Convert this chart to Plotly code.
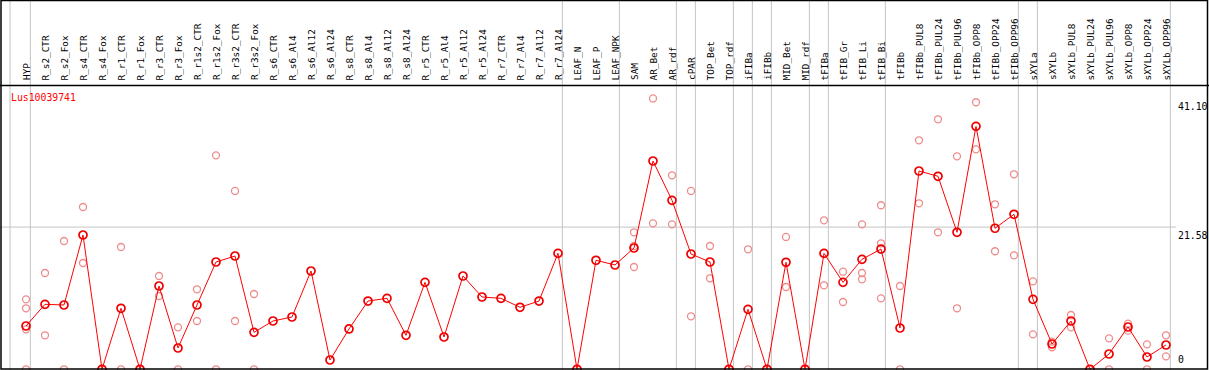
import plotly.graph_objects as go

gene_id = "Lus10039741"

categories = [
    "HYP", "R_s2_CTR", "R_s2_Fox", "R_s4_CTR", "R_s4_Fox", "R_r1_CTR", "R_r1_Fox",
    "R_r3_CTR", "R_r3_Fox", "R_r1s2_CTR", "R_r1s2_Fox", "R_r3s2_CTR", "R_r3s2_Fox",
    "R_s6_CTR", "R_s6_Al4", "R_s6_Al12", "R_s6_Al24", "R_s8_CTR", "R_s8_Al4",
    "R_s8_Al12", "R_s8_Al24", "R_r5_CTR", "R_r5_Al4", "R_r5_Al12", "R_r5_Al24",
    "R_r7_CTR", "R_r7_Al4", "R_r7_Al12", "R_r7_Al24", "LEAF_N", "LEAF_P", "LEAF_NPK",
    "SAM", "AR_Bet", "AR_rdf", "cPAR", "TOP_Bet", "TOP_rdf", "iFIBa", "iFIBb",
    "MID_Bet", "MID_rdf", "tFIBa", "tFIB_Gr", "tFIB_Li", "tFIB_Bi", "tFIBb",
    "tFIBb_PUL8", "tFIBb_PUL24", "tFIBb_PUL96", "tFIBb_OPP8", "tFIBb_OPP24",
    "tFIBb_OPP96", "sXYLa", "sXYLb", "sXYLb_PUL8", "sXYLb_PUL24", "sXYLb_PUL96",
    "sXYLb_OPP8", "sXYLb_OPP24", "sXYLb_OPP96",
]

means = [
    6.57, 9.86, 9.76, 20.38, 0, 9.26, 0, 12.64, 3.23, 9.76, 16.28, 17.19, 5.61,
    7.33, 7.94, 14.92, 1.41, 6.12, 10.36, 10.77, 5.16, 13.2, 4.9, 14.16, 10.97,
    10.77, 9.41, 10.36, 17.6, 0, 16.54, 15.83,
    18.41, 31.61, 25.64, 17.5, 16.28, 0, 9.1, 0, 16.24, 0, 17.6, 13.2, 16.69,
    18.25, 6.27, 30.09, 29.29, 20.79, 36.87, 21.4, 23.52, 10.62, 3.84, 7.33, 0,
    2.32, 6.42, 1.87, 3.69,
]

replicates = [
    [10.62, 9.26, 6.07, 0], [14.61, 5.16], [19.47, 0], [24.63, 16.13], [], [18.56, 0], [],
    [14.16, 11.12], [6.37, 0], [12.14, 7.33], [32.47, 0], [27.06, 7.33], [11.43, 0],
    [], [], [], [], [], [], [], [], [], [], [], [], [], [], [], [], [], [], [],
    [20.79, 18.71, 15.52], [41.10, 22.15], [29.44, 22.0], [27.06, 8.04], [18.71, 13.81],
    [], [18.21, 0], [], [20.08, 12.49], [], [22.61, 12.75], [14.81, 10.21],
    [22.0, 14.61, 13.66], [24.89, 19.12, 10.77], [12.64, 0],
    [34.75, 25.19], [37.94, 20.79], [32.32, 9.26], [40.52, 33.38], [25.04, 17.91],
    [29.59, 17.3], [13.35, 5.31], [4.19, 3.34], [8.24, 6.37], [], [4.7, 0],
    [6.92, 5.86], [3.79, 0], [5.16, 1.97],
]

group_ends = ["HYP", "R_r7_Al24", "LEAF_NPK", "AR_rdf", "cPAR", "TOP_rdf", "iFIBa",
              "iFIBb", "MID_rdf", "tFIBa", "tFIB_Bi", "tFIBb_OPP96", "sXYLa", "sXYLb_OPP96"]

tick_values = [41.10, 21.58, 0]
tick_labels = ["41.10", "21.58", "0"]
grid_values = [21.58]

# ---- layout geometry (pixels) ----
W, H = 1209, 370
step_px = 19.0
first_px = 26.0
zero_px = 369.3
unit_px = 6.59

idx = list(range(len(categories)))
x_lo = -first_px / step_px
x_hi = x_lo + W / step_px
y_lo = -(H - zero_px) / unit_px
y_hi = y_lo + H / unit_px

rep_x, rep_y = [], []
for i, reps in enumerate(replicates):
    for v in reps:
        rep_x.append(i)
        rep_y.append(v)

mono = "DejaVu Sans Mono"

fig = go.Figure()
fig.add_trace(go.Scatter(
    x=rep_x, y=rep_y, mode="markers",
    marker=dict(symbol="circle-open", size=7, color="rgb(238,140,140)",
                line=dict(width=1.3, color="rgb(238,140,140)")),
    hoverinfo="skip", showlegend=False,
))
fig.add_trace(go.Scatter(
    x=idx, y=means, mode="lines+markers",
    line=dict(color="#ff0000", width=1),
    marker=dict(symbol="circle-open", size=8, color="#ee0000",
                line=dict(width=1.7, color="#ee0000")),
    showlegend=False,
))

shapes = []
grey = "#c4c4c4"
# vertical separators after each group (and one before the first)
sep_off = 0.23
sep_positions = [-0.84] + [categories.index(c) + sep_off for c in group_ends]
for xs in sep_positions:
    shapes.append(dict(type="line", xref="x", yref="paper", x0=xs, x1=xs, y0=0, y1=1,
                       line=dict(color=grey, width=1), layer="below"))
for gv in grid_values:
    shapes.append(dict(type="line", xref="paper", yref="y", x0=0, x1=1176 / W, y0=gv, y1=gv,
                       line=dict(color=grey, width=1), layer="below"))
# frame and header separator
header_px = 85.5
shapes.append(dict(type="line", xref="paper", yref="paper", x0=0, x1=1,
                   y0=1 - header_px / H, y1=1 - header_px / H, line=dict(color="black", width=1.5)))
shapes.append(dict(type="rect", xref="paper", yref="paper", x0=1 / W, x1=1 - 1.5 / W,
                   y0=1 - 369 / H, y1=1 - 0.5 / H, line=dict(color="black", width=1.5)))

annotations = []
for i, c in enumerate(categories):
    annotations.append(dict(x=i, y=1 - 82.5 / H, xref="x", yref="paper", text=c,
                            textangle=-90, showarrow=False, xanchor="center", yanchor="bottom",
                            font=dict(family=mono, size=9.4, color="black")))
annotations.append(dict(x=9 / W, y=1 - 97.5 / H, xref="paper", yref="paper", text=gene_id,
                        showarrow=False, xanchor="left", yanchor="middle",
                        font=dict(family=mono, size=9.8, color="#ff0000")))
for tv, tl in zip(tick_values, tick_labels):
    anchor = "bottom" if tv == 0 else "top"
    annotations.append(dict(x=1176 / W, y=tv, xref="paper", yref="y", text=tl,
                            showarrow=False, xanchor="left", yanchor=anchor,
                            yshift=(2 if tv == 0 else -1),
                            font=dict(family=mono, size=9.8, color="black")))

fig.update_layout(
    width=W, height=H, autosize=False,
    margin=dict(l=0, r=0, t=0, b=0, pad=0),
    paper_bgcolor="white", plot_bgcolor="white",
    xaxis=dict(range=[x_lo, x_hi], visible=False, showgrid=False, zeroline=False, fixedrange=True),
    yaxis=dict(range=[y_lo, y_hi], visible=False, showgrid=False, zeroline=False, fixedrange=True),
    shapes=shapes, annotations=annotations,
)

fig.write_html("out.html", config={"displayModeBar": False},
               post_script="document.body.style.margin='0';document.body.style.overflow='hidden';")
